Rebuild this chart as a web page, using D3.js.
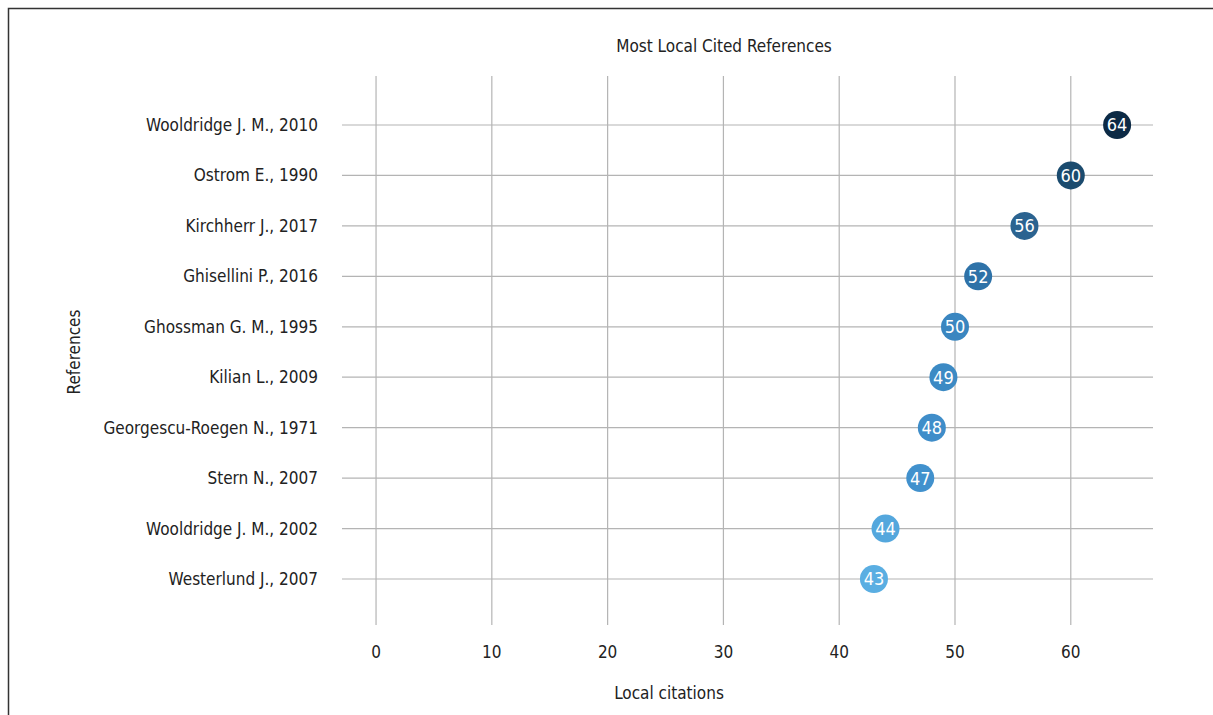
<!DOCTYPE html>
<html>
<head>
<meta charset="utf-8">
<script src="https://cdn.jsdelivr.net/npm/d3@7"></script>
<style>
  html, body { margin: 0; padding: 0; background: #fff; }
  svg { display: block; }
  text { font-family: "Liberation Sans Narrow", "DejaVu Sans Condensed", "Roboto", sans-serif; }
</style>
</head>
<body>
<svg id="chart" width="1213" height="715"></svg>
<script>
const references = [
  "Wooldridge J. M., 2010",
  "Ostrom E., 1990",
  "Kirchherr J., 2017",
  "Ghisellini P., 2016",
  "Ghossman G. M., 1995",
  "Kilian L., 2009",
  "Georgescu-Roegen N., 1971",
  "Stern N., 2007",
  "Wooldridge J. M., 2002",
  "Westerlund J., 2007"
];
const citations = [64, 60, 56, 52, 50, 49, 48, 47, 44, 43];
const xTicks = [0, 10, 20, 30, 40, 50, 60];
const title = "Most Local Cited References";
const xTitle = "Local citations";
const yTitle = "References";

const svg = d3.select("#chart");

// frame
svg.append("rect")
  .attr("x", 8.5).attr("y", 8.5)
  .attr("width", 1300).attr("height", 800)
  .attr("fill", "none").attr("stroke", "#333").attr("stroke-width", 1.5);

const x = d3.scaleLinear().domain([-2.94, 67.1]).range([342, 1153]);
const y = d3.scalePoint().domain(references).range([125, 579]);
const gridTop = 76, gridBottom = 625;

const color = d3.scaleLinear()
  .domain([43, 47, 50, 52, 56, 60, 64])
  .range(["#5aaee2", "#4191cd", "#3a86c0", "#2e72a8", "#2b6390", "#1b4b6e", "#0c2a45"]);

// vertical grid
svg.append("g").selectAll("line").data(xTicks).join("line")
  .attr("x1", d => x(d)).attr("x2", d => x(d))
  .attr("y1", gridTop).attr("y2", gridBottom)
  .attr("stroke", "#b4b4b4").attr("stroke-width", 1.2);

// horizontal grid
svg.append("g").selectAll("line").data(references).join("line")
  .attr("x1", 342).attr("x2", 1153)
  .attr("y1", d => y(d)).attr("y2", d => y(d))
  .attr("stroke", "#b4b4b4").attr("stroke-width", 1.2);

// x tick labels
svg.append("g").selectAll("text").data(xTicks).join("text")
  .attr("x", d => x(d)).attr("y", 658)
  .attr("text-anchor", "middle")
  .attr("font-size", 17).attr("fill", "#222")
  .text(d => d);

// y labels
svg.append("g").selectAll("text").data(references).join("text")
  .attr("x", 318).attr("y", d => y(d))
  .attr("dy", "0.35em")
  .attr("text-anchor", "end")
  .attr("font-size", 17).attr("fill", "#222")
  .text(d => d);

// points
const pts = svg.append("g").selectAll("g").data(references.map((r, i) => ({r, v: citations[i]}))).join("g")
  .attr("transform", d => `translate(${x(d.v)},${y(d.r)})`);
pts.append("circle").attr("r", 14).attr("fill", d => color(d.v));
pts.append("text")
  .attr("text-anchor", "middle").attr("dy", "0.36em")
  .attr("font-size", 18).attr("fill", "#fff")
  .text(d => d.v);

// titles
svg.append("text").attr("x", 724).attr("y", 52)
  .attr("text-anchor", "middle").attr("font-size", 17).attr("fill", "#222")
  .text(title);
svg.append("text").attr("x", 669).attr("y", 699)
  .attr("text-anchor", "middle").attr("font-size", 17).attr("fill", "#222")
  .text(xTitle);
svg.append("text")
  .attr("transform", "translate(80,352) rotate(-90)")
  .attr("text-anchor", "middle").attr("font-size", 17).attr("fill", "#222")
  .text(yTitle);
</script>
</body>
</html>
